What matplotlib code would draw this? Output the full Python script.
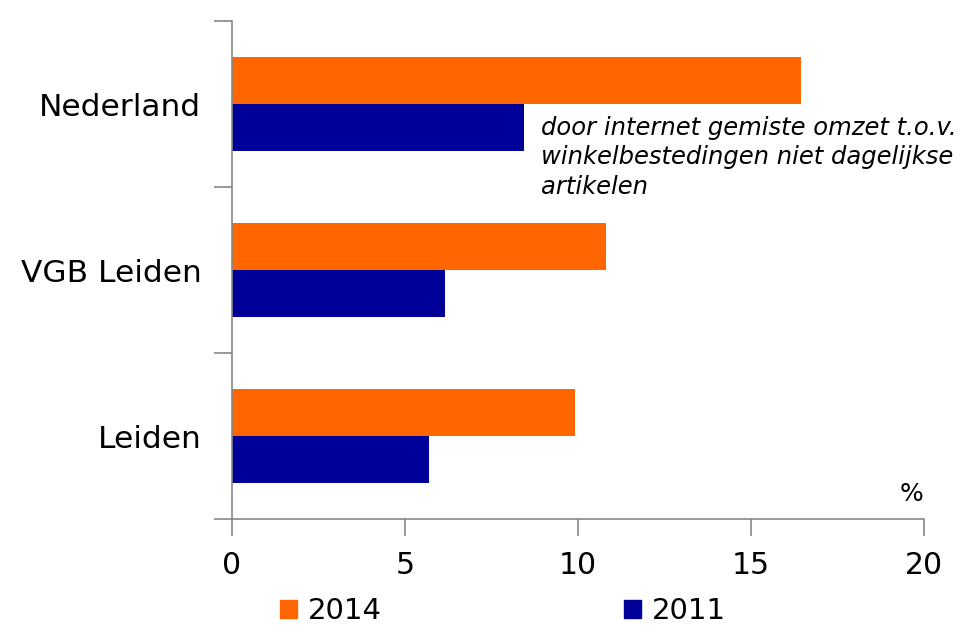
import matplotlib.pyplot as plt
from matplotlib.patches import Patch

# data
regions = ['Leiden', 'VGB Leiden', 'Nederland']
val_2014 = [9.9, 10.8, 16.45]
val_2011 = [5.7, 6.15, 8.45]
col_2014 = '#FF6600'
col_2011 = '#000099'
grey = '#868686'

fig = plt.figure(figsize=(9.78, 6.38), dpi=100)
ax = fig.add_axes([0.2372, 0.1865, 0.7076, 0.7805])

h = 0.285
pos = range(len(regions))
ax.barh([p + h / 2 for p in pos], val_2014, height=h, color=col_2014)
ax.barh([p - h / 2 for p in pos], val_2011, height=h, color=col_2011)

ax.set_xlim(0, 20)
ax.set_ylim(-0.5, 2.5)
ax.set_xticks([0, 5, 10, 15, 20])
ax.set_yticks([-0.5, 0.5, 1.5, 2.5], minor=False)
ax.set_yticklabels([])
ax.set_yticks(list(pos), minor=True)
ax.set_yticklabels(regions, minor=True, fontsize=22.5)
ax.tick_params(axis='y', which='minor', length=0, pad=22)
ax.tick_params(axis='y', which='major', length=13, color=grey, width=1.2)
ax.tick_params(axis='x', length=12, color=grey, width=1.2, labelsize=21.5, pad=11)

for s in ['top', 'right']:
    ax.spines[s].set_visible(False)
for s in ['left', 'bottom']:
    ax.spines[s].set_color(grey)
    ax.spines[s].set_linewidth(1.2)

ax.text(8.93, 1.93, 'door internet gemiste omzet t.o.v.\nwinkelbestedingen niet dagelijkse\nartikelen',
        fontsize=17.5, style='italic', ha='left', va='top', linespacing=1.3)
ax.text(19.65, -0.42, '%', fontsize=18, ha='center', va='bottom')

handles = [Patch(color=col_2014), Patch(color=col_2011)]
fig.legend(handles, ['2014', '2011'], loc='center', bbox_to_anchor=(0.514, 0.042),
           ncol=2, frameon=False, fontsize=21, handlelength=0.6, handleheight=0.55,
           handletextpad=0.35, columnspacing=8.3)

fig.savefig('out.png', dpi=100)
